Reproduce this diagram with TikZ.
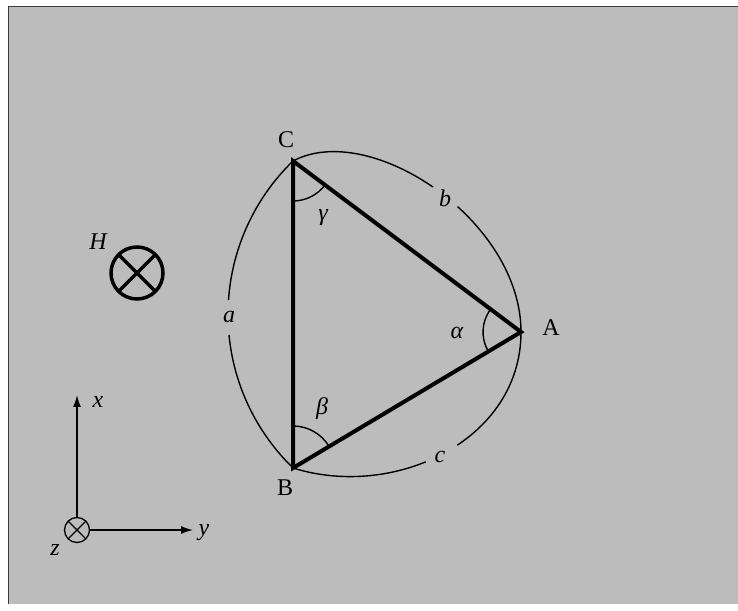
\documentclass[tikz,border=0pt]{standalone}
\usepackage{fontspec}
\setmainfont{Liberation Serif}
\usetikzlibrary{arrows.meta}
\definecolor{bgc}{RGB}{188,188,188}
\definecolor{framec}{RGB}{60,60,60}
\begin{document}
\begin{tikzpicture}[x=1pt,y=1pt,
  lbl/.style={font=\fontsize{24}{28}\selectfont, inner sep=0pt},
  ilbl/.style={font=\fontsize{24}{28}\selectfont\itshape, inner sep=0pt},
  tri/.style={line width=4pt, line join=miter},
  thinarc/.style={line width=1.4pt},
  axisline/.style={line width=1.4pt, -{Latex[length=12pt,width=8pt]}},
  otimesbig/.style={draw, circle, line width=3.5pt, minimum size=52pt, inner sep=0pt, outer sep=0pt},
  otimessmall/.style={draw, circle, line width=1.3pt, minimum size=25pt, inner sep=0pt, outer sep=0pt}]
\useasboundingbox (0,0) rectangle (738,610);
\fill[white] (0,0) rectangle (738,610);
\fill[bgc] (8,6) rectangle (738,603);
\draw[framec, line width=1pt] (8,6) -- (8,603) -- (738,603);

% vertices
\coordinate (C) at (293,449);
\coordinate (B) at (293,142);
\coordinate (A) at (521,278);

% side arcs with gaps for labels
\begin{scope}[even odd rule]
\clip (0,0) rectangle (738,610)
  (229,292.5) circle (17.5) (443.5,411) circle (16) (441,157.5) circle (18);
\draw[thinarc] (C) .. controls (370,490) and (521,390) .. (A)
                   .. controls (521,170) and (395,110) .. (B);
\draw[thinarc] (C) arc[start angle=134.1, end angle=225.9, radius=213.7];
\end{scope}
\node[ilbl] (la) at (229,293) {a};
\node[ilbl] (lb) at (445,412) {b};
\node[ilbl] (lc) at (440,153) {c};

% triangle
\draw[tri] (C) -- (A) -- (B) -- cycle;

% angle marks
\draw[thinarc] (C) ++(270:40) arc[start angle=270, end angle=323.1, radius=40];
\draw[thinarc] (B) ++(30.8:42) arc[start angle=30.8, end angle=90, radius=42];
\draw[thinarc] (A) ++(143.1:38) arc[start angle=143.1, end angle=210.8, radius=38];
\node[ilbl] (lg) at (323,392) {γ};
\node[ilbl] (lbeta) at (322,201) {β};
\node[ilbl] (lal) at (457,277) {α};

% vertex labels
\node[lbl] (lC) at (286,470) {C};
\node[lbl] (lB) at (285,122) {B};
\node[lbl] (lA) at (551,282) {A};

% field H
\node[otimesbig] (H) at (137,337) {};
\draw[line width=3.5pt] (H.north west) -- (H.south east);
\draw[line width=3.5pt] (H.north east) -- (H.south west);
\node[ilbl] (lH) at (98,368) {H};

% axes
\node[otimessmall] (O) at (77,80) {};
\draw[line width=1.2pt] (O.north west) -- (O.south east);
\draw[line width=1.2pt] (O.north east) -- (O.south west);
\coordinate (xend) at (77,215);
\coordinate (yend) at (193,80);
\draw[axisline] (O.north) -- (xend);
\draw[axisline] (O.east) -- (yend);
\node[ilbl] (lx) at (98,208) {x};
\node[ilbl] (ly) at (204,77) {y};
\node[ilbl] (lz) at (55,60) {z};
\end{tikzpicture}
\end{document}
